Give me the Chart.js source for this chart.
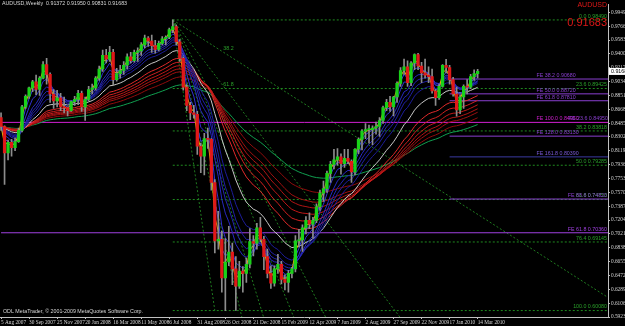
<!DOCTYPE html>
<html><head><meta charset="utf-8">
<script src="https://cdn.jsdelivr.net/npm/chart.js@4/dist/chart.umd.min.js"></script>
<style>html,body{margin:0;padding:0;background:#000;overflow:hidden}#wrap{width:625px;height:326px;position:relative}</style>
</head><body><div id="wrap"><canvas id="c"></canvas></div>
<script>
// ---- weekly AUDUSD candles, week 0 = 5 Aug 2007 ----
const opens = [0.8560,0.8440,0.8090,0.8230,0.8160,0.8240,0.8390,0.8700,0.8840,0.8950,0.9030,0.8930,0.9080,0.9260,0.9130,0.8870,0.8780,0.8820,0.8700,0.8690,0.8650,0.8770,0.8800,0.8880,0.8700,0.8800,0.8930,0.8950,0.9080,0.9200,0.9380,0.9330,0.9420,0.9060,0.9140,0.9180,0.9250,0.9360,0.9310,0.9420,0.9440,0.9520,0.9610,0.9570,0.9510,0.9460,0.9540,0.9600,0.9620,0.9720,0.9760,0.9560,0.9340,0.8960,0.8720,0.8620,0.8600,0.8180,0.8050,0.8280,0.8270,0.7700,0.6930,0.6950,0.6440,0.6650,0.6780,0.6560,0.6330,0.6530,0.6500,0.6620,0.6920,0.6900,0.7100,0.6950,0.6720,0.6500,0.6370,0.6560,0.6620,0.6420,0.6380,0.6500,0.6560,0.6930,0.6940,0.7100,0.7200,0.7150,0.7200,0.7380,0.7560,0.7620,0.7820,0.7940,0.8000,0.8040,0.7950,0.8020,0.7980,0.7840,0.8140,0.8270,0.8380,0.8400,0.8400,0.8420,0.8440,0.8520,0.8690,0.8760,0.8700,0.8830,0.9010,0.9180,0.9230,0.9020,0.9280,0.9390,0.9240,0.9150,0.9120,0.9100,0.8910,0.8820,0.8970,0.9250,0.9220,0.9060,0.8870,0.8660,0.8830,0.8970,0.8960,0.9100,0.91372];
const highs = [0.8620,0.8450,0.8260,0.8270,0.8290,0.8420,0.8720,0.8860,0.8960,0.9050,0.9120,0.9100,0.9300,0.9340,0.9150,0.8930,0.8920,0.8880,0.8830,0.8700,0.8780,0.8840,0.8920,0.8910,0.8830,0.8970,0.9000,0.9100,0.9240,0.9450,0.9460,0.9500,0.9460,0.9210,0.9250,0.9300,0.9400,0.9420,0.9450,0.9480,0.9550,0.9650,0.9630,0.9650,0.9580,0.9570,0.9630,0.9640,0.9740,0.9849,0.9780,0.9590,0.9360,0.8990,0.8760,0.8720,0.8640,0.8220,0.8350,0.8420,0.8280,0.7740,0.7320,0.7060,0.6960,0.7120,0.6900,0.6720,0.6660,0.6590,0.6700,0.7090,0.7000,0.7160,0.7240,0.6990,0.6820,0.6600,0.6600,0.6750,0.6660,0.6480,0.6540,0.6580,0.7000,0.7080,0.7140,0.7250,0.7300,0.7240,0.7420,0.7600,0.7720,0.7850,0.7980,0.8140,0.8150,0.8080,0.8140,0.8140,0.8000,0.8150,0.8290,0.8400,0.8480,0.8460,0.8450,0.8500,0.8560,0.8710,0.8800,0.8840,0.8840,0.9030,0.9220,0.9330,0.9310,0.9300,0.9400,0.9406,0.9290,0.9330,0.9230,0.9200,0.8930,0.9000,0.9260,0.9327,0.9250,0.9090,0.8960,0.8860,0.8990,0.9060,0.9130,0.9190,0.91950];
const lows = [0.8390,0.7675,0.8000,0.8050,0.8120,0.8230,0.8370,0.8680,0.8810,0.8900,0.8860,0.8850,0.9070,0.9000,0.8760,0.8680,0.8700,0.8650,0.8620,0.8580,0.8640,0.8720,0.8730,0.8640,0.8520,0.8780,0.8870,0.8920,0.9050,0.9170,0.9280,0.9300,0.8990,0.9040,0.9080,0.9130,0.9200,0.9280,0.9290,0.9300,0.9380,0.9480,0.9500,0.9420,0.9410,0.9440,0.9520,0.9520,0.9600,0.9680,0.9520,0.9300,0.8920,0.8650,0.8530,0.8550,0.8070,0.7830,0.7800,0.8150,0.7600,0.6770,0.6820,0.6250,0.6008,0.6600,0.6350,0.6010,0.6300,0.6250,0.6380,0.6570,0.6730,0.6820,0.6920,0.6550,0.6440,0.6300,0.6330,0.6500,0.6360,0.6280,0.6250,0.6440,0.6520,0.6850,0.6790,0.7020,0.7090,0.6960,0.7170,0.7330,0.7450,0.7570,0.7700,0.7880,0.7930,0.7810,0.7900,0.7950,0.7700,0.7800,0.8080,0.8130,0.8280,0.8220,0.8200,0.8340,0.8310,0.8480,0.8650,0.8640,0.8580,0.8760,0.8970,0.9130,0.8970,0.8980,0.9190,0.9190,0.9020,0.9080,0.9020,0.8880,0.8720,0.8800,0.8960,0.9150,0.9000,0.8840,0.8577,0.8610,0.8680,0.8870,0.8940,0.9050,0.90831];
const closes = [0.8440,0.8090,0.8230,0.8160,0.8240,0.8390,0.8700,0.8840,0.8950,0.9030,0.8930,0.9080,0.9260,0.9130,0.8870,0.8780,0.8820,0.8700,0.8690,0.8650,0.8770,0.8800,0.8880,0.8700,0.8800,0.8930,0.8950,0.9080,0.9200,0.9380,0.9330,0.9420,0.9060,0.9140,0.9180,0.9250,0.9360,0.9310,0.9420,0.9440,0.9520,0.9610,0.9570,0.9510,0.9460,0.9540,0.9600,0.9620,0.9720,0.9760,0.9560,0.9340,0.8960,0.8720,0.8620,0.8600,0.8180,0.8050,0.8280,0.8270,0.7700,0.6930,0.6950,0.6440,0.6650,0.6780,0.6560,0.6330,0.6530,0.6500,0.6620,0.6920,0.6900,0.7100,0.6950,0.6720,0.6500,0.6370,0.6560,0.6620,0.6420,0.6380,0.6500,0.6560,0.6930,0.6940,0.7100,0.7200,0.7150,0.7200,0.7380,0.7560,0.7620,0.7820,0.7940,0.8000,0.8040,0.7950,0.8020,0.7980,0.7840,0.8140,0.8270,0.8380,0.8400,0.8400,0.8420,0.8440,0.8520,0.8690,0.8760,0.8700,0.8830,0.9010,0.9180,0.9230,0.9020,0.9280,0.9390,0.9240,0.9150,0.9120,0.9100,0.8910,0.8820,0.8970,0.9250,0.9220,0.9060,0.8870,0.8660,0.8830,0.8970,0.8960,0.9100,0.9140,0.91683];

// ---- axis tick labels ----
const xTickWeeks = [0,8,16,24,32,40,48,56,64,72,80,88,96,104,112,120,128,136];
const xTickLabels = ['5 Aug 2007','30 Sep 2007','25 Nov 2007','20 Jan 2008','16 Mar 2008','11 May 2008','6 Jul 2008','31 Aug 2008','26 Oct 2008','21 Dec 2008','15 Feb 2009','12 Apr 2009','7 Jun 2009','2 Aug 2009','27 Sep 2009','22 Nov 2009','17 Jan 2010','14 Mar 2010'];
const yTicks = [0.99490,0.97660,0.95830,0.94000,0.92170,0.90340,0.88510,0.86680,0.84850,0.83020,0.81190,0.79360,0.77530,0.75700,0.73870,0.72040,0.70210,0.68380,0.66550,0.64720,0.62890,0.61060,0.59230];

// ---- indicator periods (Guppy style ribbons) ----
const fastPeriods = [3,5,8,10,12,15];
const slowPeriods = [30,35,40,45,50,60];
const yellowPeriod = 2, whitePeriod = 21, greenPeriod = 80;

// ---- Fibonacci retracement (from the July 2008 high to the Oct 2008 low) ----
const fibStartWeek = 49;
const fibNames  = ['0.0','23.6','38.2','50.0','61.8','76.4','100.0'];
const fibPrices = [0.98490,0.89425,0.83818,0.79285,0.74753,0.69145,0.60080];

// ---- Fibonacci expansion lines ----
const feNames  = ['FE 38.2','FE 50.0','FE 61.8','FE 100.0','FE 128.0','FE 161.8','FE 88.6','FE 61.8'];
const fePrices = [0.90680,0.88720,0.87810,0.84950,0.83130,0.80390,0.74820,0.70360];
const feStart  = [128,128,128,0,128,128,128,0];
const feColors = ['#8a3fd0','#8a3fd0','#8a3fd0','#d21fd2','#8a3fd0','#3a3aa0','#8a3fd0','#a040e0'];
const feSide   = ['left','left','left','left','left','left','right','right'];

// ---- fan lines from the July 2008 high ----
const fanStartWeek = 49, fanStartPrice = 0.98490;
const fanEndWeek  = [173.1,113.8,92.6,83.5,74.9,68.7,61.0];
const fanEndPrice = [0.6184,0.5923,0.5923,0.5923,0.5923,0.5923,0.6008];
const fanNames = ['38.2','61.8'];

const lastOHLC = [0.91372,0.91950,0.90831,0.91683];

function ema(src, n){
  const k = 2/(n+1); const out = []; let e = src[0];
  for (let i=0;i<src.length;i++){ e = i===0 ? src[0] : src[i]*k + e*(1-k); out.push(e); }
  return out;
}
const weeks = closes.map((_,i)=>i);
const lineDs = (vals, color, order, width) => ({type:'line', data: vals.map((v,i)=>({x:i,y:v})), borderColor:color, borderWidth:width||1, pointRadius:0, tension:0, order:order});

const datasets = [];
datasets.push({type:'bar', data: weeks.map(i=>({x:i,y:[Math.min(opens[i],closes[i]),Math.max(opens[i],closes[i])]})),
  backgroundColor: weeks.map(i=>closes[i]>=opens[i]?'#19d119':'#e01818'), barThickness:2.6, grouped:false, order:1, minBarLength:1});
datasets.push({type:'bar', data: weeks.map(i=>({x:i,y:[lows[i],highs[i]]})),
  backgroundColor:'#8c8c8c', barThickness:1, grouped:false, order:2});
datasets.push(lineDs(ema(closes,yellowPeriod),'#e8b400',3));
fastPeriods.forEach((p,j)=>datasets.push(lineDs(ema(closes,p),['#3838e0','#3030d0','#2828c0','#2424b0','#2020a4','#1c1c98'][j],4)));
datasets.push(lineDs(ema(closes,whitePeriod),'#c8c8c8',4));
slowPeriods.forEach((p,j)=>datasets.push(lineDs(ema(closes,p),['#e02a2a','#d02020','#c01818','#b01414','#a01010','#900c0c'][j],5)));
datasets.push(lineDs(ema(closes,greenPeriod),'#10a050',5));
fibPrices.forEach(p=>datasets.push({type:'line',data:[{x:fibStartWeek,y:p},{x:173.2,y:p}],borderColor:'#1f8a1f',borderWidth:1,borderDash:[2,2],pointRadius:0,order:8}));
fePrices.forEach((p,j)=>datasets.push({type:'line',data:[{x:feStart[j],y:p},{x:173.2,y:p}],borderColor:feColors[j],borderWidth:1,pointRadius:0,order:7}));
fanEndWeek.forEach((w,j)=>datasets.push({type:'line',data:[{x:fanStartWeek,y:fanStartPrice},{x:w,y:fanEndPrice[j]}],borderColor:'#1f7a1f',borderWidth:1,borderDash:[2,2],pointRadius:0,order:9}));

const FONT = '"Liberation Sans Narrow", "Liberation Sans", sans-serif';
const FS = 5.3;
const textPlugin = {
  id:'mtText',
  afterDraw(chart){
    const {ctx, scales:{x,y}, chartArea:ca} = chart;
    ctx.save();
    ctx.textBaseline = 'bottom';
    ctx.font = FS+'px '+FONT;
    ctx.textAlign = 'right';
    fibPrices.forEach((p,j)=>{ ctx.fillStyle='#2aa02a'; ctx.fillText(fibNames[j]+' '+p.toFixed(5), ca.right-1, y.getPixelForValue(p)-1); });
    fePrices.forEach((p,j)=>{
      ctx.fillStyle = feColors[j]==='#3a3aa0' ? '#7a5ad8' : feColors[j];
      const t = feNames[j]+' '+p.toFixed(5);
      if (feSide[j]==='left'){ ctx.textAlign='left'; ctx.fillText(t, x.getPixelForValue(152.8), y.getPixelForValue(p)-1); }
      else { ctx.textAlign='right'; ctx.fillText(t, ca.right-1, y.getPixelForValue(p)-1); }
    });
    ctx.textAlign='right'; ctx.fillStyle='#8a3fd0';
    ctx.fillText('FE 23.6 0.84950', ca.right, y.getPixelForValue(fePrices[3])-1);
    ctx.fillStyle='#2aa02a'; ctx.textAlign='left';
    [0,1].forEach(j=>{ const w=64; const p=fanStartPrice+(fanEndPrice[j]-fanStartPrice)*(w-fanStartWeek)/(fanEndWeek[j]-fanStartWeek); ctx.fillText(fanNames[j], x.getPixelForValue(w)-2, y.getPixelForValue(p)-2); });
    ctx.fillStyle='#d8d8d8'; ctx.textBaseline='top'; ctx.textAlign='left';
    ctx.fillText('AUDUSD,Weekly  '+lastOHLC.map(v=>v.toFixed(5)).join(' '), 2, 1);
    ctx.fillText('ODL MetaTrader, \u00a9 2001-2009 MetaQuotes Software Corp.', 3, ca.bottom-8);
    ctx.textAlign='right'; ctx.fillStyle='#e01818';
    ctx.font = '7px "Liberation Sans"';
    ctx.fillText('AUDUSD', ca.right-1, 2);
    ctx.font = '11px "Liberation Sans"';
    ctx.fillText(lastOHLC[3].toFixed(5), ca.right-1, 17);
    const py = y.getPixelForValue(lastOHLC[3]);
    ctx.fillStyle='#ffffff'; ctx.fillRect(ca.right+1, py-3.5, 17, 7);
    ctx.fillStyle='#000000'; ctx.font=FS+'px '+FONT; ctx.textAlign='left'; ctx.textBaseline='middle';
    ctx.fillText(lastOHLC[3].toFixed(5), ca.right+3, py);
    ctx.restore();
  }
};

new Chart(document.getElementById('c'), {
  type:'bar',
  data:{datasets},
  options:{
    responsive:true, maintainAspectRatio:false, animation:false,
    layout:{padding:0},
    plugins:{legend:{display:false}, tooltip:{enabled:false}},
    scales:{
      x:{type:'linear', min:-0.3, max:173.2, offset:false, position:'bottom',
        grid:{display:true, drawOnChartArea:false, drawTicks:true, tickLength:2, color:'#c0c0c0', offset:false},
        border:{display:true, color:'#c0c0c0'},
        afterBuildTicks(s){ s.ticks = xTickWeeks.map(v=>({value:v})); },
        afterFit(s){ s.height = 9; },
        ticks:{autoSkip:false, maxRotation:0, align:'start', padding:0, color:'#d8d8d8', font:{family:'Liberation Sans Narrow',size:FS},
          callback:(v)=>xTickLabels[xTickWeeks.indexOf(v)]}
      },
      y:{type:'linear', position:'right', min:0.5923, max:1.0057,
        grid:{display:true, drawOnChartArea:false, drawTicks:true, tickLength:2, color:'#c0c0c0'},
        border:{display:true, color:'#c0c0c0'},
        afterBuildTicks(s){ s.ticks = yTicks.map(v=>({value:v})); },
        afterFit(s){ s.width = 17; },
        ticks:{autoSkip:false, padding:1, color:'#d8d8d8', font:{family:'Liberation Sans Narrow',size:FS}, callback:(v)=>v.toFixed(5)}
      }
    }
  },
  plugins:[textPlugin]
});
</script></body></html>
